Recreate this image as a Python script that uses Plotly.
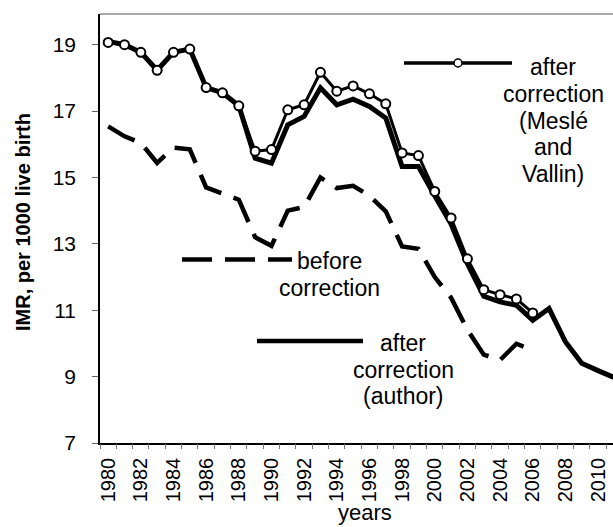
import plotly.graph_objects as go

years = list(range(1980, 2012))

after_author = [19.1, 19.0, 18.77, 18.23, 18.77, 18.87, 17.71, 17.55, 17.16, 15.58,
                15.43, 16.59, 16.84, 17.7, 17.19, 17.36, 17.14, 16.79, 15.33, 15.33,
                14.45, 13.6, 12.4, 11.42, 11.25, 11.15, 10.7, 11.05, 10.05, 9.4,
                9.18, 8.97]

mesle_years = list(range(1980, 2007))
after_mesle = [19.07, 19.0, 18.77, 18.23, 18.77, 18.87, 17.71, 17.55, 17.16, 15.79,
               15.84, 17.04, 17.19, 18.17, 17.6, 17.76, 17.52, 17.22, 15.74, 15.66,
               14.58, 13.78, 12.55, 11.62, 11.47, 11.34, 10.92]

before_years = list(range(1980, 2007))
before_corr = [16.54, 16.24, 16.04, 15.44, 15.9, 15.85, 14.7, 14.53, 14.33, 13.2,
               12.94, 14.0, 14.11, 15.0, 14.68, 14.75, 14.45, 13.98, 12.92, 12.85,
               12.0, 11.38, 10.41, 9.66, 9.5, 9.99, 9.8]

x_tick_vals = list(range(1980, 2011, 2))
x_tick_text = [str(v) for v in x_tick_vals]
y_tick_vals = [7, 9, 11, 13, 15, 17, 19]

label_mesle = ["after", "correction", "(Meslé", "and", "Vallin)"]
label_before = ["before", "correction"]
label_author = ["after", "correction", "(author)"]

W, H = 613, 527
L, R, T, B = 100, 0, 14, 84
PW, PH = W - L - R, H - T - B
X0 = 1979.5
XR = [X0, X0 + PW / 16.33]

def px(x):
    return (x - L) / PW

def py(y):
    return (H - B - y) / PH

FONT = "Liberation Sans, Arial, sans-serif"

fig = go.Figure()
fig.add_trace(go.Scatter(x=before_years, y=before_corr, mode="lines",
                         line=dict(color="black", width=4.5, dash="30px,13px"),
                         showlegend=False, hoverinfo="skip"))
fig.add_trace(go.Scatter(x=years, y=after_author, mode="lines",
                         line=dict(color="black", width=5),
                         showlegend=False, hoverinfo="skip"))
fig.add_trace(go.Scatter(x=mesle_years, y=after_mesle, mode="lines+markers",
                         line=dict(color="black", width=3),
                         marker=dict(symbol="circle", size=9, color="white",
                                     line=dict(color="black", width=2)),
                         showlegend=False, hoverinfo="skip"))
# empty trace on the overlay axis that carries the between-category ticks
fig.add_trace(go.Scatter(x=[], y=[], xaxis="x2", showlegend=False, hoverinfo="skip"))

shapes = [
    dict(type="line", xref="paper", yref="paper", x0=0, x1=1, y0=1, y1=1,
         line=dict(color="#8c8c8c", width=1.5)),
    dict(type="line", xref="paper", yref="paper", x0=px(404), x1=px(512),
         y0=py(63), y1=py(63), line=dict(color="black", width=3.5)),
    dict(type="circle", xref="paper", yref="paper", xsizemode="pixel",
         ysizemode="pixel", xanchor=px(458), yanchor=py(63),
         x0=-4, x1=4, y0=-4, y1=4, fillcolor="white",
         line=dict(color="black", width=1.5)),
    dict(type="line", xref="paper", yref="paper", x0=px(182), x1=px(292),
         y0=py(259.5), y1=py(259.5),
         line=dict(color="black", width=4.5, dash="30px,13px")),
    dict(type="line", xref="paper", yref="paper", x0=px(257), x1=px(363),
         y0=py(341), y1=py(341), line=dict(color="black", width=4.5)),
]

ann_font = dict(family=FONT, size=23, color="black")
annotations = []

def add_block(lines, xc, ycs):
    for t, yc in zip(lines, ycs):
        annotations.append(dict(text=t, x=px(xc), y=py(yc), xref="paper", yref="paper",
                                showarrow=False, xanchor="center", yanchor="middle",
                                font=ann_font))

add_block(label_mesle, 553, [67, 94, 121, 147.5, 174])
add_block(label_before, 329, [261, 288])
add_block(label_author, 403, [343, 370, 396])

annotations.append(dict(text="<b>IMR, per 1000 live birth</b>", x=px(23), y=py(222),
                        textangle=-90, xref="paper", yref="paper", showarrow=False,
                        xanchor="center", yanchor="middle",
                        font=dict(family=FONT, size=20, color="black")))
annotations.append(dict(text="years", x=px(365), y=py(512), xref="paper", yref="paper",
                        showarrow=False, xanchor="center", yanchor="middle",
                        font=dict(family=FONT, size=22, color="black")))

fig.update_layout(
    width=W, height=H,
    margin=dict(l=L, r=R, t=T, b=B, pad=0),
    paper_bgcolor="white", plot_bgcolor="white",
    shapes=shapes, annotations=annotations,
    xaxis=dict(range=XR, tickmode="array",
               tickvals=x_tick_vals, ticktext=x_tick_text, tickangle=-90,
               ticks="", showgrid=False, zeroline=False, showline=True,
               linecolor="black", linewidth=1.5, automargin=False,
               ticklabelstandoff=5,
               tickfont=dict(family=FONT, size=20, color="black")),
    xaxis2=dict(range=XR, overlaying="x", anchor="y", side="bottom",
                tickmode="linear", tick0=X0, dtick=1, ticks="outside", ticklen=5,
                tickwidth=1.2, tickcolor="#777", showticklabels=False,
                showgrid=False, zeroline=False, showline=False, automargin=False),
    yaxis=dict(range=[7, 7 + PH / 33.19], tickmode="array", tickvals=y_tick_vals,
               ticks="outside", ticklen=6, tickwidth=1.2, tickcolor="#666",
               showgrid=False, zeroline=False, showline=True, linecolor="black",
               linewidth=1.5, automargin=False, ticklabelstandoff=12,
               tickfont=dict(family=FONT, size=21, color="black")),
)

fig.write_html("out.html", config={"displayModeBar": False},
               post_script="document.body.style.margin='0';")
